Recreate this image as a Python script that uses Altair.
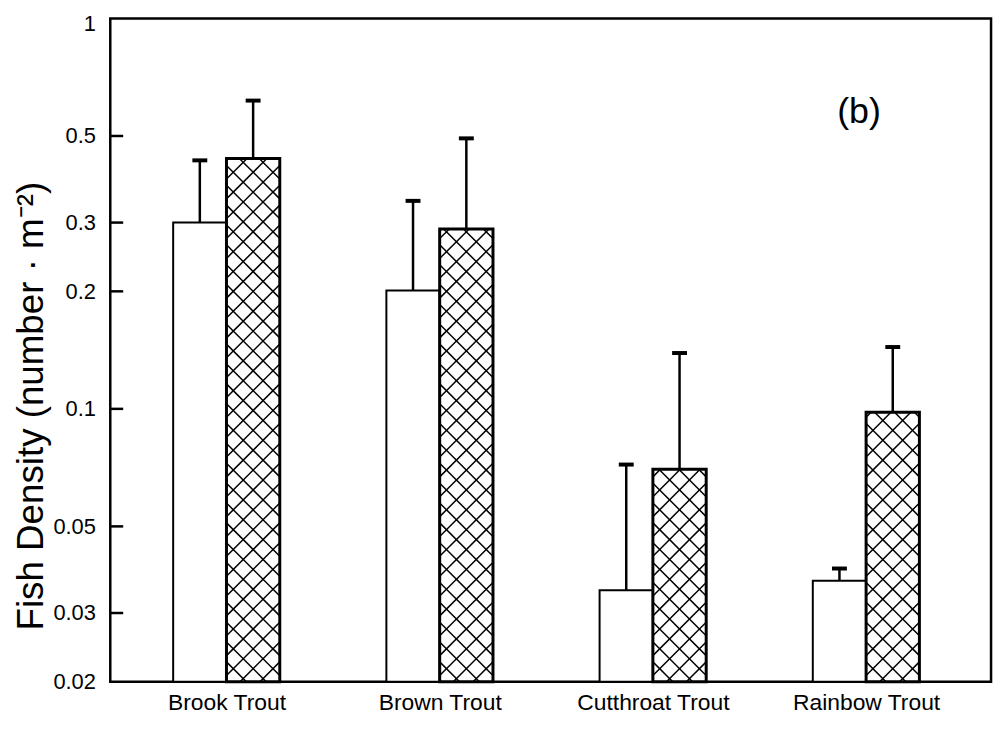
import altair as alt
import numpy as np
import pandas as pd

# ---- data ----
species = ["Brook Trout", "Brown Trout", "Cutthroat Trout", "Rainbow Trout"]
open_mean = [0.300, 0.201, 0.0343, 0.0363]
open_upper = [0.433, 0.341, 0.072, 0.039]
hatched_mean = [0.438, 0.289, 0.070, 0.098]
hatched_upper = [0.616, 0.493, 0.139, 0.144]
y_ticks = [0.02, 0.03, 0.05, 0.1, 0.2, 0.3, 0.5, 1]

# ---- layout / style constants ----
W, H = 887, 668
Y_MIN, Y_MAX = 0.02, 1.0
X_MIN, X_MAX = -0.545, 3.586
BAR_W = 0.25
FONT = "Liberation Sans"
px_per_unit = W / (X_MAX - X_MIN)
px_per_decade = H / np.log10(Y_MAX / Y_MIN)
HATCH_STEP = 20.0  # px between parallel hatch lines (horizontal)

rows = []
for i, s in enumerate(species):
    rows.append(dict(species=s, group="open", x0=i - BAR_W, x1=i, xc=i - BAR_W / 2,
                     mean=open_mean[i], upper=open_upper[i]))
    rows.append(dict(species=s, group="hatched", x0=i, x1=i + BAR_W, xc=i + BAR_W / 2,
                     mean=hatched_mean[i], upper=hatched_upper[i]))
bars = pd.DataFrame(rows)
open_df = bars[bars.group == "open"]
hat_df = bars[bars.group == "hatched"]

# cross-hatch segments for the hatched bars (45 degree lines in screen space)
seg = []
for _, r in hat_df.iterrows():
    bw = BAR_W * px_per_unit
    bh = np.log10(r["mean"] / Y_MIN) * px_per_decade

    def to_data(dx, h):
        return r["x0"] + dx / px_per_unit, Y_MIN * 10 ** (h / px_per_decade)

    k = -bw
    while k <= bh:
        a, b = max(0.0, -k), min(bw, bh - k)
        if b > a:
            xa, ya = to_data(a, a + k)
            xb, yb = to_data(b, b + k)
            seg.append(dict(xa=xa, ya=ya, xb=xb, yb=yb))
        k += HATCH_STEP
    k = 0.0
    while k <= bh + bw:
        a, b = max(0.0, k - bh), min(bw, k)
        if b > a:
            xa, ya = to_data(a, k - a)
            xb, yb = to_data(b, k - b)
            seg.append(dict(xa=xa, ya=ya, xb=xb, yb=yb))
        k += HATCH_STEP
hatch = pd.DataFrame(seg)

label_expr = "[" + ",".join("'" + s + "'" for s in species) + "][datum.value]"

xscale = alt.Scale(domain=[X_MIN, X_MAX], nice=False, zero=False)
yscale = alt.Scale(type="log", domain=[Y_MIN, Y_MAX], nice=False)

x_axis = alt.Axis(values=[0, 1, 2, 3], labelExpr=label_expr, title=None, domain=False,
                  ticks=False, grid=False, labelFont=FONT, labelFontSize=23,
                  labelColor="black", labelPadding=10, labelFlush=False,
                  labelOverlap=False, labelBound=False)
y_axis = alt.Axis(values=y_ticks, format="~g", domain=False, ticks=False, grid=False,
                  labelFont=FONT, labelFontSize=22, labelColor="black", labelPadding=15,
                  labelFlush=False, labelOverlap=False, labelBaseline="middle",
                  labelOffset={"condition": {"test": "datum.value == 1", "value": 5},
                               "value": 0},
                  title="Fish Density (number · m⁻²)", titleFont=FONT, titleFontSize=37,
                  titleFontWeight="normal", titleColor="black", titleAngle=-90,
                  titleX=-79, titleY=390, titleAlign="center", titleBaseline="middle")


def X(f):
    return alt.X(f, scale=xscale, axis=x_axis)


def Y(f):
    return alt.Y(f, scale=yscale, axis=y_axis)


base_open = alt.Chart(open_df)
base_hat = alt.Chart(hat_df)

open_bars = base_open.mark_rect(fill="white", stroke="black", strokeWidth=2).encode(
    x=X("x0:Q"), x2="x1:Q", y=Y("mean:Q"), y2=alt.Y2Datum(Y_MIN))

hat_fill = base_hat.mark_rect(fill="white", strokeWidth=0).encode(
    x=X("x0:Q"), x2="x1:Q", y=Y("mean:Q"), y2=alt.Y2Datum(Y_MIN))

hatch_lines = alt.Chart(hatch).mark_rule(color="black", strokeWidth=1.5).encode(
    x=X("xa:Q"), x2="xb:Q", y=Y("ya:Q"), y2="yb:Q")

hat_outline = base_hat.mark_rect(fill="white", fillOpacity=0, stroke="black", strokeWidth=3).encode(
    x=X("x0:Q"), x2="x1:Q", y=Y("mean:Q"), y2=alt.Y2Datum(Y_MIN))

err = alt.Chart(bars).mark_rule(color="black", strokeWidth=2.5).encode(
    x=X("xc:Q"), y=Y("mean:Q"), y2="upper:Q")

caps = alt.Chart(bars).mark_tick(orient="horizontal", color="black", opacity=1,
                                 size=15, thickness=4).encode(
    x=X("xc:Q"), y=Y("upper:Q"))

tick_df = pd.DataFrame({"t": y_ticks[1:-1]})
yticks = alt.Chart(tick_df).mark_rule(color="black", strokeWidth=2.5).encode(
    y=Y("t:Q"), x=alt.value(0), x2=alt.value(13))

panel = alt.Chart(pd.DataFrame({"label": ["(b)"]})).mark_text(
    font=FONT, fontSize=36, color="black", align="center", baseline="middle").encode(
    text="label:N", x=alt.value(754), y=alt.value(94))

chart = alt.layer(open_bars, hat_fill, hatch_lines, hat_outline, err, caps, yticks, panel).properties(
    width=W, height=H,
    autosize=alt.AutoSizeParams(type="none"),
    padding={"left": 103, "top": 8, "right": 6, "bottom": 36},
    background="white",
).configure_view(stroke="black", strokeWidth=2.5)

chart.save("out.html", embed_options={"renderer": "svg", "actions": False})
